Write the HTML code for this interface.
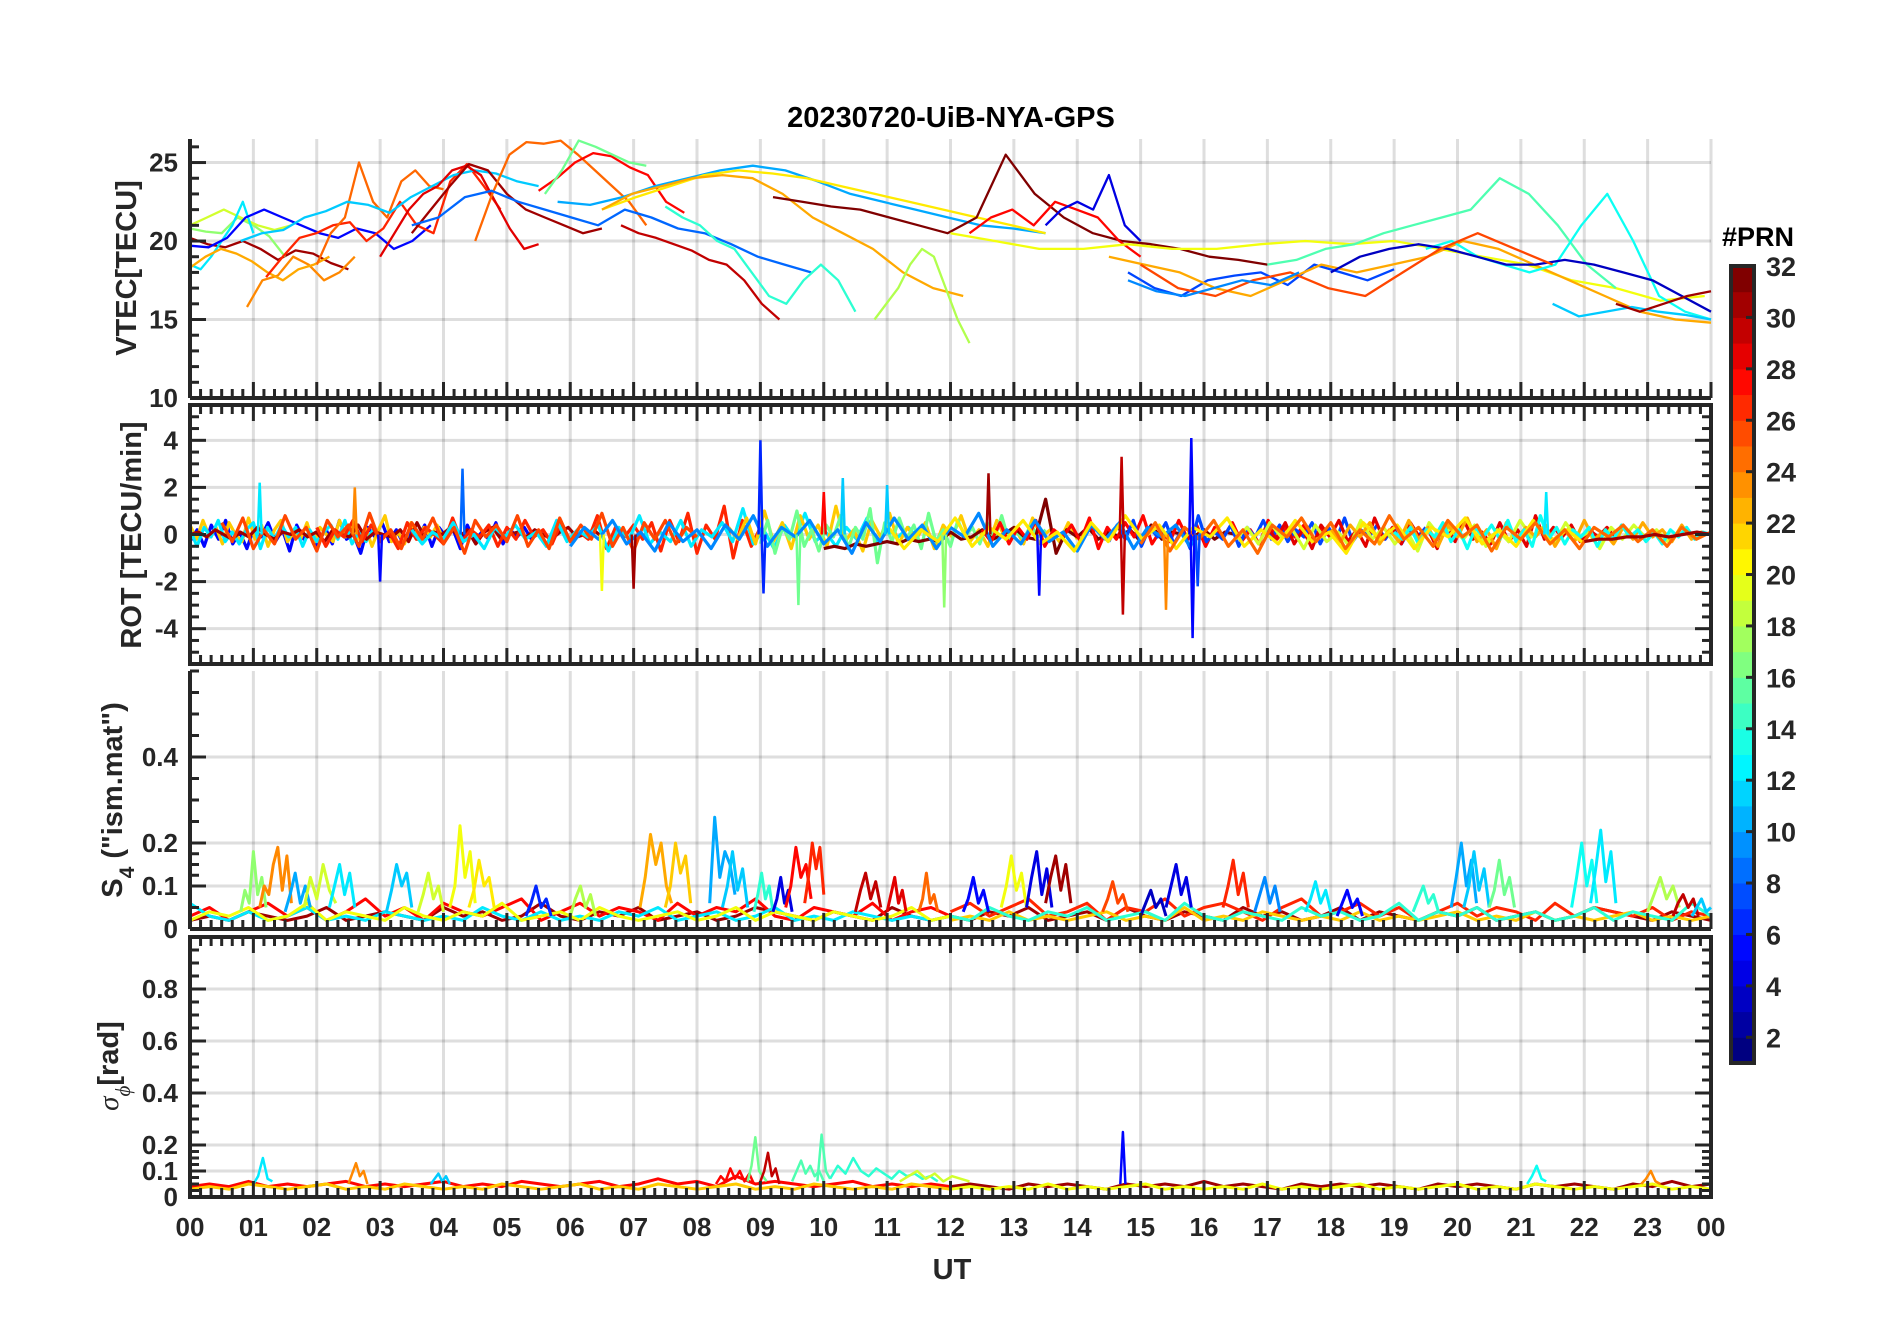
<!DOCTYPE html>
<html><head><meta charset="utf-8"><title>20230720-UiB-NYA-GPS</title>
<style>
html,body{margin:0;padding:0;background:#fff;}
body{width:1902px;height:1330px;overflow:hidden;}
svg text{font-family:"Liberation Sans",Arial,sans-serif;font-weight:bold;fill:#262626;}
</style></head>
<body>
<svg id="fig" width="1902" height="1330" xmlns="http://www.w3.org/2000/svg">
<g id="grid"></g>
<g id="data"></g>
<g id="axes"></g>
<text x="951" y="127" text-anchor="middle" font-size="29" style="fill:#000">20230720-UiB-NYA-GPS</text>
<text x="952" y="1279" text-anchor="middle" font-size="29">UT</text>
<text transform="translate(136,268) rotate(-90)" text-anchor="middle" font-size="29">VTEC[TECU]</text>
<text transform="translate(141,535) rotate(-90)" text-anchor="middle" font-size="29">ROT [TECU/min]</text>
<text transform="translate(122,800) rotate(-90)" text-anchor="middle" font-size="29">S<tspan font-size="21" dy="12">4</tspan><tspan dy="-12"> ("ism.mat")</tspan></text>
<text transform="translate(118,1066) rotate(-90)" text-anchor="middle" font-size="29"><tspan font-style="italic" font-weight="normal" font-family="Liberation Serif">σ</tspan><tspan font-style="italic" font-weight="normal" font-size="21" dy="12" font-family="Liberation Serif">ϕ</tspan><tspan dy="-12">[rad]</tspan></text>
<g id="cbar"></g>
<text x="1722" y="246" font-size="27" style="fill:#000">#PRN</text>
</svg>
<script>
// ---------- data ----------
const hourLabels=["00","01","02","03","04","05","06","07","08","09","10","11","12","13","14","15","16","17","18","19","20","21","22","23","00"];
const vtecTicks=[10,15,20,25];
const rotTicks=[-4,-2,0,2,4];
const s4Ticks=[0,0.1,0.2,0.4];
const sigTicks=[0,0.1,0.2,0.4,0.6,0.8];
const prnTicks=[2,4,6,8,10,12,14,16,18,20,22,24,26,28,30,32];

// VTEC passes: prn, start hour, end hour, values (TECU)
const vtecPasses=[
{prn:31,t0:0,t1:2.5,v:[20.2,19.8,19.6,20,19.5,18.8,19.4,19.2,18.6,18.2]},
{prn:17,t0:0,t1:1.5,v:[20.8,20.6,20.5,21.5,21,20.3,19]},
{prn:19,t0:0,t1:1.6,v:[21,21.5,22,21.5,21,20.7,21]},
{prn:12,t0:0,t1:1.0,v:[18.5,18.2,19,20,21,22.5,20.5]},
{prn:5,t0:0,t1:3.8,v:[19.7,19.6,20.2,21.5,22,21.5,21,20.5,20.2,20.8,20.5,19.5,20,21]},
{prn:24,t0:0.9,t1:2.6,v:[15.8,17.5,17.8,19,18.5,17.5,18,19]},
{prn:23,t0:0,t1:2.2,v:[18.3,19,19.5,19.2,18.7,18,17.5,18.2,18.5,19]},
{prn:27,t0:1.2,t1:4.9,v:[17.7,19,20.2,20.5,21,21.2,20,20.8,22.5,21,20.5,23.8,24.9,23.5,22]},
{prn:25,t0:2,t1:4,v:[18.5,20.5,21.5,25,22.5,21.5,23.8,24.5,23.5,23.3]},
{prn:11,t0:0.8,t1:5.5,v:[20,20.5,20.7,21.5,21.9,22.5,22.3,21.8,22.8,23.5,24.2,24.5,24.3,23.8,23.5]},
{prn:29,t0:3,t1:5.5,v:[19,20.5,22,23,23.5,24.5,24.8,24.2,22.5,20.8,19.5,19.8]},
{prn:31,t0:3.5,t1:6.5,v:[20.5,22,23.5,24.9,24.5,23,22,21.5,21,20.5,20.8]},
{prn:25,t0:4.5,t1:7.2,v:[20,23,25.5,26.3,26.2,26.4,25.5,24.5,23.5,22.5,21]},
{prn:28,t0:5.5,t1:7.8,v:[23.2,24,25,25.6,25.4,24.7,24.2,22.5,21.8]},
{prn:16,t0:5.6,t1:7.2,v:[23,24.5,26.4,26,25.5,25,24.8]},
{prn:8,t0:3.5,t1:9.8,v:[21,21.5,22.8,23.2,22.5,22,21.5,21,22,21.5,20.8,20.5,19.8,19,18.5,18]},
{prn:30,t0:6.8,t1:9.3,v:[21,20.5,20.2,19.8,19.4,18.8,18.5,17.5,16,15]},
{prn:14,t0:7.5,t1:10.5,v:[22.2,21.5,21,20,19.5,18,16.5,16,17.5,18.5,17.5,15.5]},
{prn:10,t0:5.8,t1:13.5,v:[22.5,22.3,22.8,23.5,24,24.5,24.8,24.5,23.8,23,22.5,22,21.5,21,20.8,20.5]},
{prn:21,t0:6.5,t1:13.5,v:[22,22.8,23.5,24.2,24.5,24.3,24,23.5,23,22.5,22,21.5,21,20.5]},
{prn:23,t0:6.5,t1:12.2,v:[22,23,23.5,24,24.2,24,23,21.5,20.5,19.5,18,17,16.5]},
{prn:18,t0:10.8,t1:12.3,v:[15,16,17,18.5,19.5,19,17,15,13.5]},
{prn:32,t0:9.2,t1:17,v:[22.8,22.5,22.2,22,21.5,21,20.5,21.5,25.5,23,21.5,20.5,20,19.8,19.5,19,18.8,18.5]},
{prn:28,t0:12.3,t1:15,v:[20.5,21.5,22,21,22.5,22,21.5,20,19]},
{prn:4,t0:13.5,t1:15,v:[21,22,22.5,22,24.2,21,20]},
{prn:7,t0:14.8,t1:19,v:[18,17,16.5,17.5,17.8,18,17.2,18.5,18,17.5,18.2]},
{prn:20,t0:12,t1:23.9,v:[20.5,20,19.5,19.5,19.8,19.5,19.5,19.8,20,19.8,20,19.5,19,18.5,17.5,17,16.2,16.5]},
{prn:23,t0:14.5,t1:24,v:[19,18.5,18,17,16.5,17.5,18.5,18,18.5,19,20,19.5,18.5,17.5,16.5,15.5,15,14.8]},
{prn:15,t0:17,t1:22.5,v:[18.5,18.8,19.5,19.8,20.5,21,21.5,22,24,23,21,18.5,17]},
{prn:13,t0:19.5,t1:24,v:[19.5,20,19,18.5,18,18.5,21,23,20,16.5,15.5,15]},
{prn:3,t0:18,t1:24,v:[18,19,19.5,19.8,19.5,19,18.5,18.5,18.8,18.5,18,17.5,16.5,15.5]},
{prn:11,t0:21.5,t1:24,v:[16,15.2,15.5,15.8,15.5,15.3,15]},
{prn:31,t0:22.5,t1:24,v:[16,15.5,16,16.5,16.8]},
{prn:26,t0:15,t1:21.5,v:[18.5,17,16.5,17.5,18,17,16.5,18,19.5,20.5,19.5,18.5]},
{prn:9,t0:14.8,t1:17.5,v:[17.5,16.8,16.5,17,17.5,17.2,18]}
];

// ROT passes (values in 0.1 TECU/min)
const rotPasses=[
{prn:5,t0:0,t1:5.5,v:[-3,2,-5,4,-2,6,-4,1,-6,3,-1,5,-3,2,-7,4,-2,1,-5,3,-4,6,-2,0,-8,3,-1,5,-3,2,-4,1,-2,4,-5,3,-1,2,-6,4,-3,1,-2,5,-4,2,-1,3,-2,1]},
{prn:22,t0:0,t1:4,v:[4,-2,6,-1,3,-4,5,0,-3,7,-2,4,-5,2,6,-3,1,-2,5,-4,3,0,-3,6,-1,4,-2,3,-5,2,8,-3,1,-4,5,-2,3,-1,4,-2]},
{prn:12,t0:0,t1:3,v:[2,-5,3,-1,6,-3,1,-4,2,5,-6,3,-2,4,-1,3,-5,2,-3,1,4,-2,6,-4,1,-3,2,-1]},
{prn:31,t0:0,t1:6.5,v:[0,1,-1,2,0,-2,1,-1,3,0,-2,1,0,2,-1,1,-3,2,0,-1,4,-2,1,0,-1,2,-3,5,-2,1,0,3,-1,2,-4,1,3,-2,0,1,-1,2,0,-2,1,3,-1,0,2,-1]},
{prn:27,t0:2,t1:9,v:[3,-5,2,-1,6,-3,4,-2,1,-6,5,-2,3,0,-4,7,-3,2,-1,4,-5,3,-2,6,-1,2,-4,5,-3,1,-2,8,-6,3,-1,4,-2,5,-7,6,-3,9,-8,4,-2,12,-10,6,-5,3]},
{prn:12,t0:3.5,t1:11.5,v:[2,-4,1,-2,5,-3,0,-6,3,-1,4,-2,1,-5,6,-3,2,-1,4,-7,3,-2,8,-4,1,-3,6,-5,2,-1,5,-3,11,-4,2,-6,4,-2,9,-3,1,-5,3,-2,7,-4,2,-1,3,-2]},
{prn:22,t0:8.5,t1:14,v:[3,-2,7,-4,10,-3,5,-6,8,-2,4,-5,12,-3,2,-7,6,-1,9,-4,3,-2,5,-6,4,-1,8,-3,2,-5,6,-2,3,-4,7,-1,2,-3,5,-2]},
{prn:16,t0:9,t1:13.5,v:[-4,6,-8,3,-2,10,-5,2,-7,4,-1,8,-6,3,-2,11,-12,5,-3,7,-2,4,-6,9,-3,2,-5,6,-1,3,-4,5,-2,8,-3,1,-2,4,-1,2]},
{prn:32,t0:10,t1:16.5,v:[-6,-5,-6,-4,-5,-4,-3,-4,-2,-3,-2,-3,1,-2,-1,2,-2,0,3,-1,-2,15,-8,2,-1,3,-2,1,-1,2,-3,4,-2,1,0,-1,2,-2,1,0]},
{prn:28,t0:12.5,t1:18,v:[2,-3,5,-4,3,-2,6,-5,2,-1,4,-3,7,-6,3,-2,5,-1,8,-4,2,-3,6,-2,4,-5,3,-1,5,-3,2,-4,6,-2,3,-1,4,-3,2,-1]},
{prn:7,t0:14.5,t1:19.5,v:[-3,4,-2,6,-5,3,-1,5,-4,2,-6,8,-3,1,-2,4,-5,3,-1,6,-2,4,-3,2,-1,5,-4,3,-2,7,-3,2,-1,4,-2,3,-4,2,-1,3]},
{prn:29,t0:17,t1:22.5,v:[3,-2,5,-4,2,-6,4,-1,6,-3,2,-5,7,-2,3,-4,5,-1,2,-6,4,-3,6,-2,1,-4,5,-3,2,-5,8,-2,3,-1,4,-3,2,-1,3,-2]},
{prn:19,t0:16.5,t1:23.5,v:[-2,3,-4,5,-1,2,-6,4,-3,1,-5,6,-2,3,-4,2,-7,5,-1,3,-2,4,-5,2,-3,6,-1,3,-4,5,-2,1,-6,3,-2,4,-1,2,-3,1]},
{prn:23,t0:18,t1:24,v:[2,-3,4,-1,5,-4,2,-3,6,-2,3,-5,4,-1,7,-3,2,-6,5,-2,3,-1,4,-5,2,-3,6,-2,1,-4,3,-2,5,-1,2,-3,4,-2,1,0]},
{prn:13,t0:19,t1:24,v:[1,-2,3,-4,2,-1,5,-3,2,-6,3,-1,4,-2,6,-3,2,-5,8,-2,3,-4,2,-1,3,-5,2,-2,4,-1,2,-3,1,-4,2,-1,3,-2,1,0]},
{prn:26,t0:0.5,t1:8,v:[5,-3,7,-6,2,-4,8,-2,3,-7,6,-1,4,-5,9,-3,2,-6,5,-2,7,-4,3,-8,6,-1,4,-3,8,-5,2,-6,7,-3,4,-2,9,-5,3,-7,5,-2,6,-4,3,-1]},
{prn:9,t0:6,t1:16,v:[-5,3,-2,6,-4,1,-7,5,-3,2,-6,4,-2,8,-5,3,-1,6,-4,2,-8,5,-3,7,-2,4,-6,3,-1,9,-5,2,-4,6,-3,1,-7,4,-2,5,-6,3,-1,4,-5,2]},
{prn:21,t0:11,t1:22,v:[4,-6,2,-3,7,-5,3,-2,6,-4,1,-7,5,-3,8,-2,4,-6,3,-1,7,-5,2,-4,6,-3,1,-8,5,-2,4,-6,3,-1,7,-4,2,-5,6,-3,2,-4]},
{prn:25,t0:15,t1:24,v:[-4,5,-7,3,-2,6,-5,2,-8,4,-1,7,-3,5,-6,2,-4,8,-2,3,-5,6,-1,4,-7,3,-2,5,-4,2,-6,3,-1,4,-3,2,-5,3,-2,1]},
{prn:31,t0:22,t1:24,v:[-3,-2,-2,-1,-1,0,-1,0,1,0]}
];
// ROT spikes: hour, value, prn
const rotSpikeT=[1.1,2.6,3.0,4.3,6.5,7.0,9.0,9.05,9.6,10.0,10.3,11.0,11.9,12.6,13.4,14.7,14.72,15.4,15.8,15.82,15.9,21.4];
const rotSpikeV=[2.2,2.0,-2.0,2.8,-2.4,-2.3,4.0,-2.5,-3.0,1.8,2.4,2.1,-3.1,2.6,-2.6,3.3,-3.4,-3.2,4.1,-4.4,-2.2,1.8];
const rotSpikeP=[12,24,5,8,20,31,6,6,16,28,11,11,17,31,5,30,30,24,5,5,7,12];

// S4 baseline passes (values)
const s4Passes=[
{prn:31,t0:0,t1:12,v:[.02,.03,.02,.04,.03,.02,.03,.05,.02,.03,.04,.03,.02,.05,.03,.04,.02,.03,.06,.03,.02,.04,.03,.05,.02,.03,.04,.02,.03,.05,.04,.03,.02,.04,.03,.02,.05,.03,.02,.03]},
{prn:28,t0:0,t1:12,v:[.03,.05,.02,.04,.06,.03,.05,.02,.04,.07,.03,.05,.02,.06,.04,.03,.05,.07,.02,.04,.06,.03,.05,.04,.02,.06,.03,.05,.04,.07,.03,.02,.05,.04,.03,.06,.02,.04,.05,.03]},
{prn:12,t0:0,t1:12,v:[.06,.03,.02,.04,.02,.03,.05,.02,.03,.02,.04,.03,.02,.03,.02,.05,.03,.02,.04,.02,.03,.02,.04,.03,.05,.02,.03,.04,.02,.03,.05,.02,.03,.02,.04,.03,.02,.03,.02,.03]},
{prn:20,t0:0,t1:12,v:[.02,.04,.03,.05,.02,.03,.06,.02,.04,.03,.02,.05,.03,.02,.04,.03,.06,.02,.03,.04,.02,.05,.03,.02,.03,.04,.02,.03,.05,.02,.04,.03,.02,.04,.03,.02,.03,.05,.02,.03]},
{prn:31,t0:12,t1:24,v:[.03,.02,.04,.03,.05,.02,.03,.04,.02,.05,.03,.02,.04,.03,.02,.05,.03,.04,.02,.03,.05,.02,.04,.03,.02,.04,.03,.05,.02,.03,.04,.02,.03,.05,.04,.03,.02,.04,.03,.02]},
{prn:27,t0:12,t1:24,v:[.04,.06,.03,.05,.07,.03,.04,.06,.02,.05,.04,.07,.03,.05,.06,.04,.02,.05,.07,.03,.04,.06,.03,.05,.02,.04,.06,.03,.05,.04,.02,.06,.03,.05,.04,.03,.05,.02,.04,.03]},
{prn:22,t0:12,t1:24,v:[.02,.03,.02,.04,.02,.03,.02,.03,.04,.02,.03,.02,.05,.02,.03,.02,.04,.03,.02,.03,.02,.04,.02,.03,.02,.03,.04,.02,.03,.02,.04,.02,.03,.02,.03,.04,.02,.03,.02,.03]},
{prn:14,t0:12,t1:24,v:[.03,.02,.05,.03,.02,.04,.03,.05,.02,.03,.04,.02,.06,.03,.02,.04,.03,.02,.05,.03,.04,.02,.03,.06,.02,.04,.03,.05,.02,.03,.04,.02,.03,.05,.02,.04,.03,.02,.06,.03]}
];
// S4 bursts: prn, start, end, values
const s4Bursts=[
{prn:17,t0:0.8,t1:1.2,v:[.04,.09,.06,.18,.08,.12,.05]},
{prn:24,t0:1.1,t1:1.6,v:[.05,.1,.08,.15,.19,.09,.17,.06]},
{prn:10,t0:1.5,t1:1.9,v:[.04,.08,.13,.06,.1,.05]},
{prn:19,t0:1.8,t1:2.3,v:[.05,.12,.07,.15,.09,.06]},
{prn:12,t0:2.2,t1:2.6,v:[.05,.1,.15,.08,.13,.05]},
{prn:11,t0:3.1,t1:3.5,v:[.04,.09,.15,.1,.13,.05]},
{prn:19,t0:3.6,t1:4.0,v:[.04,.08,.13,.07,.1,.04]},
{prn:20,t0:4.1,t1:4.5,v:[.05,.1,.24,.12,.18,.06]},
{prn:21,t0:4.4,t1:4.8,v:[.05,.09,.16,.1,.12,.05]},
{prn:6,t0:5.3,t1:5.7,v:[.03,.06,.1,.05,.07,.03]},
{prn:18,t0:6.0,t1:6.4,v:[.03,.07,.1,.05,.08,.03]},
{prn:23,t0:7.1,t1:7.6,v:[.05,.12,.22,.15,.2,.1,.06]},
{prn:22,t0:7.5,t1:7.9,v:[.05,.1,.2,.13,.17,.06]},
{prn:10,t0:8.2,t1:8.6,v:[.06,.26,.12,.18,.15,.08]},
{prn:11,t0:8.4,t1:8.8,v:[.05,.1,.18,.09,.14,.05]},
{prn:14,t0:8.9,t1:9.2,v:[.04,.08,.13,.07,.1,.04]},
{prn:4,t0:9.2,t1:9.5,v:[.04,.07,.12,.06,.09,.04]},
{prn:28,t0:9.4,t1:9.8,v:[.05,.1,.19,.12,.15,.07]},
{prn:27,t0:9.7,t1:10.0,v:[.06,.12,.2,.14,.19,.08]},
{prn:30,t0:10.5,t1:10.9,v:[.04,.09,.13,.07,.11,.05]},
{prn:29,t0:11.0,t1:11.3,v:[.04,.08,.12,.06,.09,.04]},
{prn:25,t0:11.5,t1:11.8,v:[.04,.07,.13,.06,.08,.04]},
{prn:5,t0:12.2,t1:12.6,v:[.04,.07,.12,.06,.09,.04]},
{prn:20,t0:12.8,t1:13.2,v:[.05,.1,.17,.09,.13,.05]},
{prn:4,t0:13.2,t1:13.6,v:[.05,.12,.18,.08,.14,.05]},
{prn:31,t0:13.5,t1:13.9,v:[.06,.12,.17,.09,.15,.06]},
{prn:26,t0:14.4,t1:14.8,v:[.04,.07,.11,.06,.08,.04]},
{prn:3,t0:15.0,t1:15.4,v:[.03,.06,.09,.05,.07,.03]},
{prn:4,t0:15.4,t1:15.8,v:[.05,.1,.15,.08,.12,.05]},
{prn:27,t0:16.3,t1:16.7,v:[.05,.1,.16,.08,.13,.05]},
{prn:9,t0:16.8,t1:17.2,v:[.04,.08,.12,.06,.1,.04]},
{prn:12,t0:17.6,t1:18.0,v:[.04,.07,.11,.06,.09,.04]},
{prn:5,t0:18.1,t1:18.5,v:[.03,.06,.09,.05,.07,.03]},
{prn:14,t0:19.3,t1:19.7,v:[.04,.07,.1,.06,.08,.04]},
{prn:10,t0:19.9,t1:20.3,v:[.05,.12,.2,.1,.16,.06]},
{prn:11,t0:20.1,t1:20.5,v:[.05,.1,.18,.09,.14,.05]},
{prn:16,t0:20.5,t1:20.9,v:[.05,.09,.16,.08,.12,.05]},
{prn:13,t0:21.8,t1:22.2,v:[.05,.12,.2,.1,.16,.06]},
{prn:12,t0:22.1,t1:22.5,v:[.06,.14,.23,.11,.18,.06]},
{prn:18,t0:23.0,t1:23.5,v:[.04,.08,.12,.07,.1,.05]},
{prn:30,t0:23.4,t1:23.8,v:[.03,.06,.08,.05,.07,.03]},
{prn:11,t0:23.7,t1:24,v:[.03,.05,.07,.04,.05]}
];
// sigma-phi baseline passes
const sigPasses=[
{prn:28,t0:0,t1:12,v:[.04,.05,.04,.06,.04,.05,.04,.05,.06,.04,.05,.04,.05,.06,.04,.05,.04,.06,.05,.04,.05,.06,.04,.05,.07,.05,.06,.04,.08,.05,.06,.05,.04,.05,.06,.04,.05,.04,.05,.04]},
{prn:22,t0:0,t1:12,v:[.03,.04,.03,.05,.04,.03,.04,.05,.03,.04,.03,.05,.04,.03,.04,.03,.05,.04,.03,.04,.05,.03,.04,.03,.05,.04,.03,.04,.05,.03,.04,.03,.05,.04,.03,.04,.03,.05,.04,.03]},
{prn:31,t0:12,t1:24,v:[.04,.05,.04,.03,.05,.04,.05,.04,.03,.05,.04,.05,.04,.06,.04,.05,.04,.03,.05,.04,.05,.04,.05,.04,.03,.05,.04,.05,.04,.03,.05,.04,.05,.04,.03,.05,.04,.06,.04,.05]},
{prn:20,t0:12,t1:24,v:[.03,.04,.03,.04,.03,.05,.03,.04,.03,.04,.05,.03,.04,.03,.04,.03,.05,.03,.04,.03,.04,.05,.03,.04,.03,.04,.05,.03,.04,.03,.05,.04,.03,.04,.03,.04,.05,.03,.04,.03]}
];
const sigBursts=[
{prn:12,t0:1.0,t1:1.3,v:[.05,.08,.15,.07,.06]},
{prn:24,t0:2.5,t1:2.8,v:[.05,.09,.13,.08,.1,.05]},
{prn:11,t0:3.8,t1:4.1,v:[.05,.07,.09,.06,.08,.05]},
{prn:28,t0:8.3,t1:8.9,v:[.05,.08,.06,.11,.07,.1,.06,.09,.05]},
{prn:16,t0:8.8,t1:9.1,v:[.06,.12,.23,.1,.08,.06]},
{prn:30,t0:9.0,t1:9.3,v:[.06,.1,.17,.08,.11,.05]},
{prn:15,t0:9.5,t1:10.0,v:[.06,.1,.14,.09,.12,.08,.1,.06]},
{prn:15,t0:9.9,t1:10.1,v:[.06,.24,.1,.07]},
{prn:14,t0:10.1,t1:11.8,v:[.07,.12,.09,.15,.1,.08,.11,.09,.07,.1,.08,.09,.07,.08,.06]},
{prn:19,t0:11.2,t1:12.3,v:[.06,.08,.1,.07,.09,.06,.08,.07,.06]},
{prn:5,t0:14.68,t1:14.76,v:[.05,.25,.05]},
{prn:13,t0:21.1,t1:21.4,v:[.05,.08,.12,.07,.06]},
{prn:24,t0:22.9,t1:23.2,v:[.05,.07,.1,.06,.05]}
];

// ---------- layout ----------
const X0=190,X1=1711;
const panels={
 vtec:{top:139,bot:398,min:10,max:26.5},
 rot:{top:405,bot:664,min:-5.5,max:5.5},
 s4:{top:671,bot:929,min:0,max:0.6},
 sig:{top:937,bot:1197,min:0,max:1}
};
const NS="http://www.w3.org/2000/svg";
const xS=h=>X0+h/24*(X1-X0);
const yS=(p,v)=>{const P=panels[p];return P.bot-(v-P.min)/(P.max-P.min)*(P.bot-P.top);};
function jet(t){
 const c=x=>Math.max(0,Math.min(1,x));
 const r=c(1.5-Math.abs(4*t-3)),g=c(1.5-Math.abs(4*t-2)),b=c(1.5-Math.abs(4*t-1));
 return `rgb(${Math.round(r*255)},${Math.round(g*255)},${Math.round(b*255)})`;
}
const prnColor=p=>jet((p-1)/31);
function el(tag,attrs,parent){const e=document.createElementNS(NS,tag);for(const k in attrs)e.setAttribute(k,attrs[k]);parent.appendChild(e);return e;}
const G=document.getElementById('grid'),D=document.getElementById('data'),A=document.getElementById('axes'),CB=document.getElementById('cbar');

// grid
const gridY={vtec:vtecTicks,rot:rotTicks,s4:s4Ticks,sig:sigTicks};
for(const p in panels){
 const P=panels[p];
 for(let h=1;h<=24;h++){
  const l=el('line',{x1:xS(h),x2:xS(h),y1:P.top,y2:P.bot,stroke:'rgba(0,0,0,0.13)','stroke-width':3},G);
  
  
 }
 gridY[p].forEach(v=>{
  const l=el('line',{x1:X0,x2:X1,y1:yS(p,v),y2:yS(p,v),stroke:'rgba(0,0,0,0.13)','stroke-width':3},G);
  
  
 });
}

// series
function drawPass(panel,pass,scale,width,name){
 const n=pass.v.length;
 const pts=pass.v.map((v,i)=>xS(pass.t0+(pass.t1-pass.t0)*i/(n-1)).toFixed(1)+','+yS(panel,v*scale).toFixed(1)).join(' ');
 const pl=el('polyline',{points:pts,fill:'none',stroke:prnColor(pass.prn),'stroke-width':width,'stroke-linejoin':'round'},D);
 
 
}
s4Passes.forEach(p=>drawPass('s4',p,1,3,'s4-line'));
s4Bursts.forEach(p=>drawPass('s4',p,1,3,'s4-burst'));
sigPasses.forEach(p=>drawPass('sig',p,1,3,'sigma-line'));
sigBursts.forEach(p=>drawPass('sig',p,1,2.5,'sigma-burst'));
rotPasses.forEach(p=>drawPass('rot',p,0.1,3.2,'rot-line'));
rotSpikeT.forEach((t,i)=>{
 const pts=[[t-0.03,0],[t,rotSpikeV[i]],[t+0.03,0]].map(q=>xS(q[0]).toFixed(1)+','+yS('rot',q[1]).toFixed(1)).join(' ');
 const pl=el('polyline',{points:pts,fill:'none',stroke:prnColor(rotSpikeP[i]),'stroke-width':2.5},D);
 
 
});
vtecPasses.forEach(p=>drawPass('vtec',p,1,2.3,'vtec-line'));

// axes
const AX='#262626';
function line(x1,y1,x2,y2,w,name){const l=el('line',{x1,y1,x2,y2,stroke:AX,'stroke-width':w},A);return l;}
function xTicks(y,dir,name){
 for(let k=0;k<=144;k++){const x=xS(k/6);const len=(k%6===0)?16:9;line(x,y,x,y+dir*len,3,name);}
}
function yTicks(p,x,dir,minorStep,name){
 const P=panels[p];
 for(let v=P.min;v<=P.max+1e-9;v+=minorStep){
  const vv=Math.round(v*1000)/1000;
  const major=gridY[p].some(t=>Math.abs(t-vv)<1e-6);
  line(x,yS(p,vv),x+dir*(major?16:9),yS(p,vv),3,name);
 }
}
line(X0,panels.vtec.top,X0,panels.vtec.bot,4,'vtec-y-axis');
line(X0,panels.vtec.bot,X1,panels.vtec.bot,4,'vtec-x-axis');
yTicks('vtec',X0,1,1,'vtec-y-tick');
xTicks(panels.vtec.bot,-1,'vtec-x-tick');
el('rect',{x:X0,y:panels.rot.top,width:X1-X0,height:panels.rot.bot-panels.rot.top,fill:'none',stroke:AX,'stroke-width':4},A);
yTicks('rot',X0,1,0.5,'rot-y-tick');yTicks('rot',X1,-1,0.5,'rot-y-tick-right');
xTicks(panels.rot.bot,-1,'rot-x-tick');xTicks(panels.rot.top,1,'rot-x-tick-top');
line(X0,panels.s4.top,X0,panels.s4.bot,4,'s4-y-axis');
line(X0,panels.s4.bot,X1,panels.s4.bot,4,'s4-x-axis');
yTicks('s4',X0,1,0.05,'s4-y-tick');
for(let v=0.125;v<0.2;v+=0.025){line(X0,yS('s4',v),X0+9,yS('s4',v),3,'s4-y-minor');}
xTicks(panels.s4.bot,-1,'s4-x-tick');
el('rect',{x:X0,y:panels.sig.top,width:X1-X0,height:panels.sig.bot-panels.sig.top,fill:'none',stroke:AX,'stroke-width':4},A);
yTicks('sig',X0,1,0.05,'sigma-y-tick');yTicks('sig',X1,-1,0.05,'sigma-y-tick-right');
for(let v=0.025;v<0.2;v+=0.05){line(X0,yS('sig',v),X0+9,yS('sig',v),3,'sigma-y-minor');line(X1,yS('sig',v),X1-9,yS('sig',v),3,'sigma-y-minor');}
xTicks(panels.sig.bot,-1,'sigma-x-tick');xTicks(panels.sig.top,1,'sigma-x-tick-top');

// tick labels
function txt(x,y,s,anchor,name){const t=el('text',{x,y,'text-anchor':anchor,'font-size':26},A);t.textContent=s;return t;}
hourLabels.forEach((s,i)=>txt(xS(i),1236,s,'middle','x-tick-label'));
for(const p in gridY){
 gridY[p].forEach(v=>txt(178,yS(p,v)+9,String(v),'end',p+'-y-tick-label'));
}

// colorbar
const CBx=1731,CBw=23,CBtop=266,CBbot=1063;
const cbY=v=>CBbot-(v-1)/31*(CBbot-CBtop);
for(let k=0;k<31;k++){
 const r=el('rect',{x:CBx,y:cbY(k+2),width:CBw,height:cbY(k+1)-cbY(k+2)+0.5,fill:jet(k/30)},CB);
 
 
}
el('rect',{x:CBx,y:CBtop,width:CBw,height:CBbot-CBtop,fill:'none',stroke:AX,'stroke-width':4},CB);
prnTicks.forEach(v=>{
 const l=el('line',{x1:CBx+CBw,x2:CBx+CBw-8,y1:cbY(v),y2:cbY(v),stroke:AX,'stroke-width':3},CB);
 
 
 const t=el('text',{x:1766,y:cbY(v)+10,'font-size':27},CB);
 t.textContent=String(v);
 
 
});
</script>
</body></html>
